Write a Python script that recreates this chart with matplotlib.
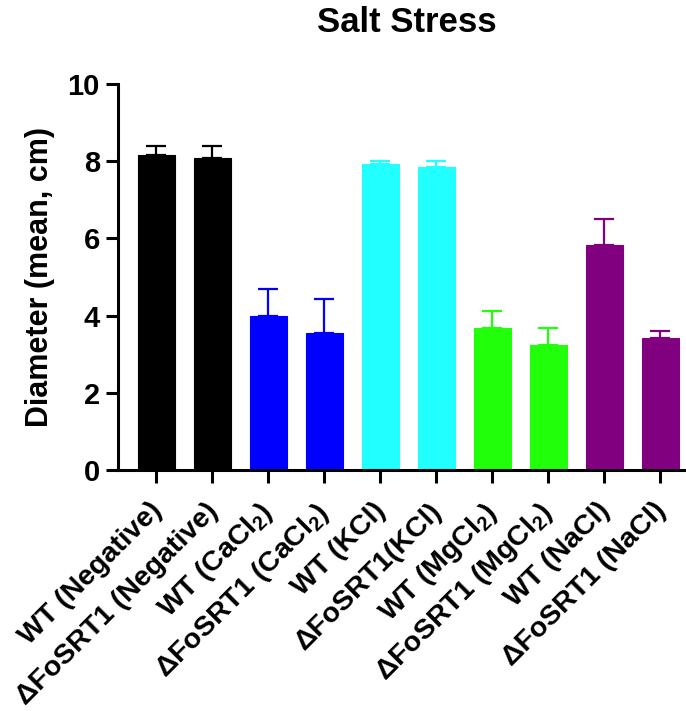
import matplotlib
matplotlib.use("Agg")
import matplotlib.pyplot as plt
import matplotlib.transforms as mtransforms
import numpy as np

plt.rcParams['font.family'] = ['Liberation Sans', 'DejaVu Sans']
plt.rcParams['font.weight'] = 'bold'
plt.rcParams['mathtext.fontset'] = 'custom'
plt.rcParams['mathtext.rm'] = 'Liberation Sans:bold'
plt.rcParams['mathtext.bf'] = 'Liberation Sans:bold'
plt.rcParams['mathtext.default'] = 'bf'

categories = ['WT (Negative)', 'ΔFoSRT1 (Negative)', 'WT (CaCl$_2$)', 'ΔFoSRT1 (CaCl$_2$)',
              'WT (KCl)', 'ΔFoSRT1(KCl)', 'WT (MgCl$_2$)', 'ΔFoSRT1 (MgCl$_2$)',
              'WT (NaCl)', 'ΔFoSRT1 (NaCl)']
means = [8.17, 8.07, 4.00, 3.54, 7.93, 7.84, 3.67, 3.24, 5.84, 3.41]
err_up = [0.23, 0.33, 0.70, 0.88, 0.07, 0.16, 0.46, 0.45, 0.66, 0.19]
colors = ['#000000', '#000000', '#0000FF', '#0000FF', '#22FFFF', '#22FFFF',
          '#22FF0A', '#22FF0A', '#800080', '#800080']
yticks = [0, 2, 4, 6, 8, 10]

fig = plt.figure(figsize=(6.86, 7.11), dpi=100)
ax = fig.add_axes([0.172, 0.339, 0.828, 0.543])
x = np.arange(len(categories))
ax.bar(x, means, width=0.66, color=colors, edgecolor=colors, linewidth=0.8, zorder=2)
for xi, m, e, c in zip(x, means, err_up, colors):
    ax.errorbar(xi, m, yerr=[[0], [e]], fmt='none', ecolor=c, elinewidth=1.6,
                capsize=7.2, capthick=1.6, zorder=1)

ax.set_xlim(-0.68, 9.46)
ax.set_ylim(0, 10)
ax.set_yticks(yticks)
ax.set_yticklabels([str(t) for t in yticks], fontsize=21, fontweight='bold')
ax.set_xticks(x)
ax.set_xticklabels(categories, rotation=45, ha='right', va='top',
                   fontsize=20.5, fontweight='bold')
ax.tick_params(axis='both', width=2.2, length=9, direction='out')
ax.tick_params(axis='x', pad=11)
ax.tick_params(axis='y', pad=4)
offset = mtransforms.ScaledTranslation(0.11, 0, fig.dpi_scale_trans)
for lbl in ax.get_xticklabels():
    lbl.set_transform(lbl.get_transform() + offset)
ax.spines['top'].set_visible(False)
ax.spines['right'].set_visible(False)
ax.spines['left'].set_linewidth(2.2)
ax.spines['bottom'].set_linewidth(2.2)
ax.set_ylabel('Diameter (mean, cm)', fontsize=22, fontweight='bold', labelpad=9)
fig.text(0.593, 0.968, 'Salt Stress', ha='center', va='center', fontsize=25, fontweight='bold')

fig.savefig('out.png', dpi=100)
